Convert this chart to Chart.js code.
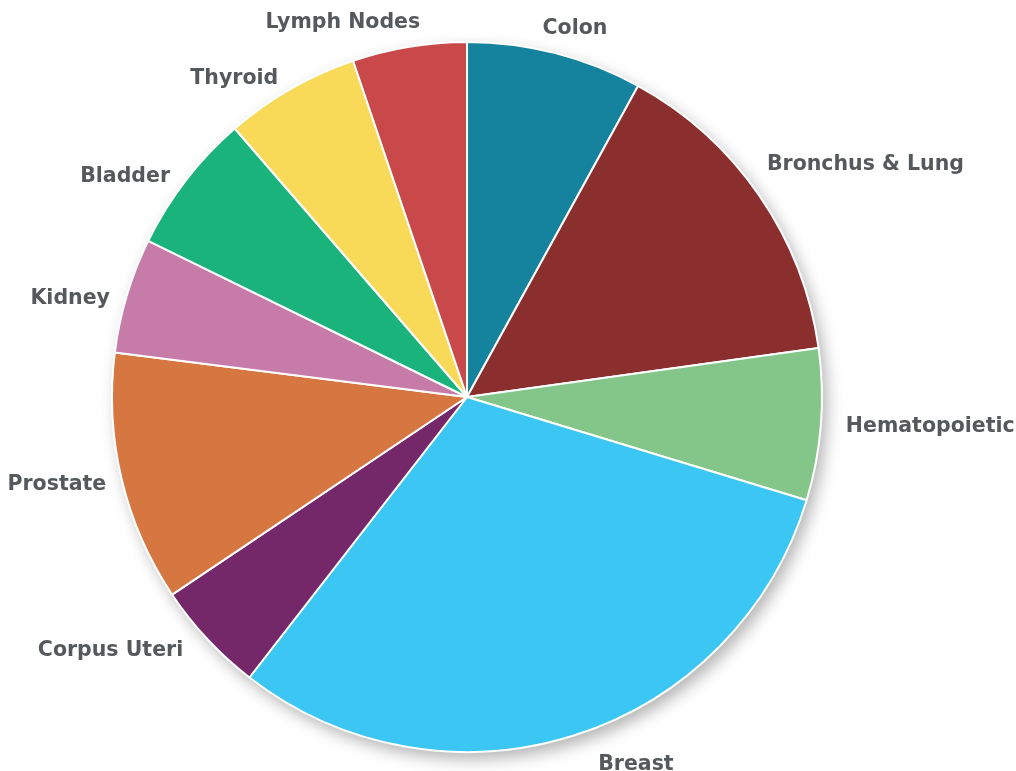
<!DOCTYPE html>
<html>
<head>
<meta charset="utf-8">
<script src="https://cdn.jsdelivr.net/npm/chart.js@4"></script>
<style>
  html, body { margin: 0; padding: 0; background: #fff; }
  #wrap { width: 1016px; height: 771px; }
</style>
</head>
<body>
<div id="wrap"><canvas id="myChart" width="1016" height="771"></canvas></div>
<script>
// Share of cases by site (percent), clockwise from 12 o'clock
const sites = ['Colon', 'Bronchus & Lung', 'Hematopoietic', 'Breast', 'Corpus Uteri',
  'Prostate', 'Kidney', 'Bladder', 'Thyroid', 'Lymph Nodes'];
const shares = [8.0, 14.8, 6.9, 30.8, 5.1, 11.4, 5.25, 6.4, 6.15, 5.2];
const sliceColors = ['#16839e', '#8b2e2e', '#84c68a', '#3bc6f3', '#74286a',
  '#d67741', '#c77ba9', '#1ab37c', '#f8da58', '#c9494a'];

// nudges for the outside labels [dx, dy]
const labelNudge = [[-19, 0], [-13, -17], [0, 0], [16, 6], [-6, -6],
  [9, 0], [7, 11], [4, 12], [0, 11], [15, 1]];

// soft drop shadow under the whole pie
const pieShadow = {
  id: 'pieShadow',
  beforeDatasetsDraw(chart) {
    const arc = chart.getDatasetMeta(0).data[0];
    if (!arc) return;
    const ctx = chart.ctx;
    ctx.save();
    ctx.shadowColor = 'rgba(0,0,0,0.3)';
    ctx.shadowBlur = 16;
    ctx.shadowOffsetX = 5;
    ctx.shadowOffsetY = 7;
    ctx.fillStyle = '#fff';
    ctx.beginPath();
    ctx.arc(arc.x, arc.y, arc.outerRadius, 0, Math.PI * 2);
    ctx.fill();
    ctx.restore();
  }
};

// category names outside each slice
const outsideLabels = {
  id: 'outsideLabels',
  afterDatasetsDraw(chart) {
    const ctx = chart.ctx;
    const meta = chart.getDatasetMeta(0);
    ctx.save();
    ctx.font = 'bold 20.5px "DejaVu Sans"';
    ctx.fillStyle = '#56595c';
    ctx.textBaseline = 'middle';
    meta.data.forEach(function (arc, i) {
      const mid = (arc.startAngle + arc.endAngle) / 2;
      const r = arc.outerRadius + 25;
      const x = arc.x + Math.cos(mid) * r;
      const y = arc.y + Math.sin(mid) * r;
      ctx.textAlign = Math.cos(mid) >= 0 ? 'left' : 'right';
      ctx.fillText(chart.data.labels[i], x + labelNudge[i][0], y + labelNudge[i][1]);
    });
    ctx.restore();
  }
};

const context = document.getElementById('myChart').getContext('2d');
const myChart = new Chart(context, {
  type: 'pie',
  data: {
    labels: sites,
    datasets: [{
      data: shares,
      backgroundColor: sliceColors,
      borderColor: '#ffffff',
      borderWidth: 2
    }]
  },
  options: {
    responsive: false,
    animation: false,
    layout: {
      padding: { left: 111, right: 193, top: 41, bottom: 18 }
    },
    plugins: {
      legend: { display: false },
      tooltip: { enabled: false }
    }
  },
  plugins: [pieShadow, outsideLabels]
});
</script>
</body>
</html>
